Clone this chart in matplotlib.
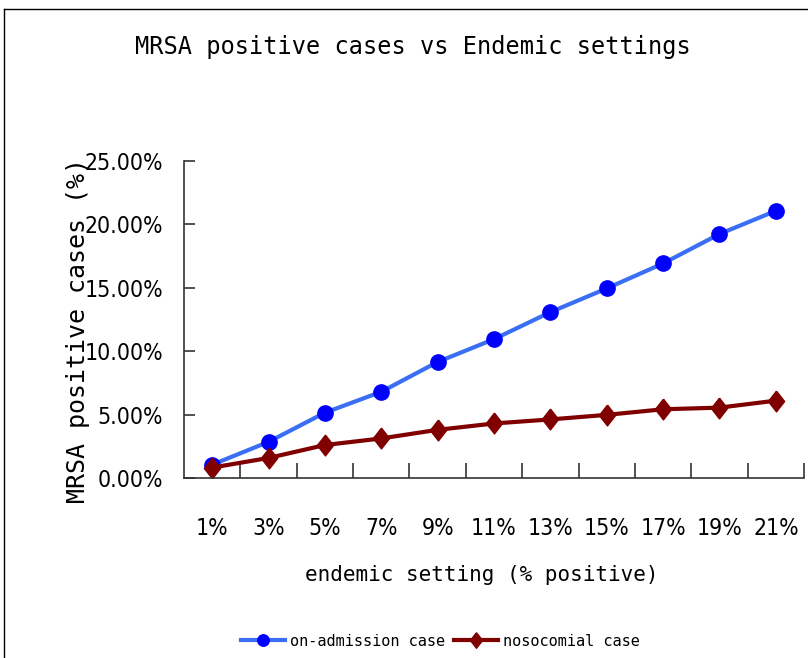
import matplotlib.pyplot as plt
from matplotlib.lines import Line2D
from matplotlib import font_manager

settings = ['1%', '3%', '5%', '7%', '9%', '11%', '13%', '15%', '17%', '19%', '21%']
on_admission = [1.05, 2.85, 5.15, 6.8, 9.15, 10.95, 13.08, 14.95, 16.92, 19.24, 21.07]
nosocomial = [0.82, 1.58, 2.6, 3.12, 3.8, 4.3, 4.62, 4.98, 5.42, 5.55, 6.1]

mono = ['DejaVu Sans Mono']
narrow = font_manager.FontProperties(family='DejaVu Sans', stretch='condensed', size=16.5)

fig = plt.figure(figsize=(8.08, 6.58), dpi=100)
ax = fig.add_axes([184/808, 1 - 478/658, 620/808, 317/658])

diamond = [(0, 1), (0.78, 0), (0, -1), (-0.78, 0), (0, 1)]
x = range(len(settings))
ax.plot(x, on_admission, color='#3A6FF5', linewidth=3, marker='o', markersize=11,
        markerfacecolor='#0000FF', markeredgecolor='#0000FF', label='on-admission case')
ax.plot(x, nosocomial, color='#800000', linewidth=3, marker=diamond, markersize=15,
        markerfacecolor='#800000', markeredgecolor='#800000', label='nosocomial case')

ax.set_xlim(-0.5, len(settings) - 0.5)
ax.set_ylim(0, 25)
ax.set_yticks([0, 5, 10, 15, 20, 25])
ax.set_yticklabels(['%.2f%%' % v for v in [0, 5, 10, 15, 20, 25]], fontproperties=narrow)

# category boundaries as major ticks, labels on minor ticks
ax.set_xticks([i + 0.5 for i in x])
ax.set_xticklabels([])
ax.set_xticks(list(x), minor=True)
ax.set_xticklabels(settings, minor=True, fontproperties=narrow)
ax.tick_params(axis='x', which='major', direction='in', length=11, width=1.2, color='#333333')
ax.tick_params(axis='x', which='minor', length=0, pad=28)
ax.tick_params(axis='y', direction='in', length=8, width=1.2, color='#333333', pad=15)

for s in ['top', 'right']:
    ax.spines[s].set_visible(False)
for s in ['left', 'bottom']:
    ax.spines[s].set_color('#333333')
    ax.spines[s].set_linewidth(1.2)

ax.set_ylabel('MRSA positive cases (%)', family=mono, fontsize=18)
ax.yaxis.set_label_coords(-0.152, 0.464)
ax.set_xlabel('endemic setting (% positive)', family=mono, fontsize=15)
ax.xaxis.set_label_coords(0.48, -0.275)

fig.text(0.511, 1 - 47/658, 'MRSA positive cases vs Endemic settings', family=mono,
         fontsize=17, ha='center', va='center')

fig.legend(loc='center', bbox_to_anchor=(0.545, 1 - 641/658), ncol=2, frameon=False,
           prop={'family': mono, 'size': 11}, handlelength=2.9, handletextpad=0.3,
           columnspacing=0.6, markerscale=0.75)

# outer border lines
fig.add_artist(Line2D([4/808, 1], [1 - 9/658, 1 - 9/658], color='black', linewidth=1))
fig.add_artist(Line2D([4/808, 4/808], [0, 1 - 9/658], color='black', linewidth=1))

plt.savefig('out.png', dpi=100)
